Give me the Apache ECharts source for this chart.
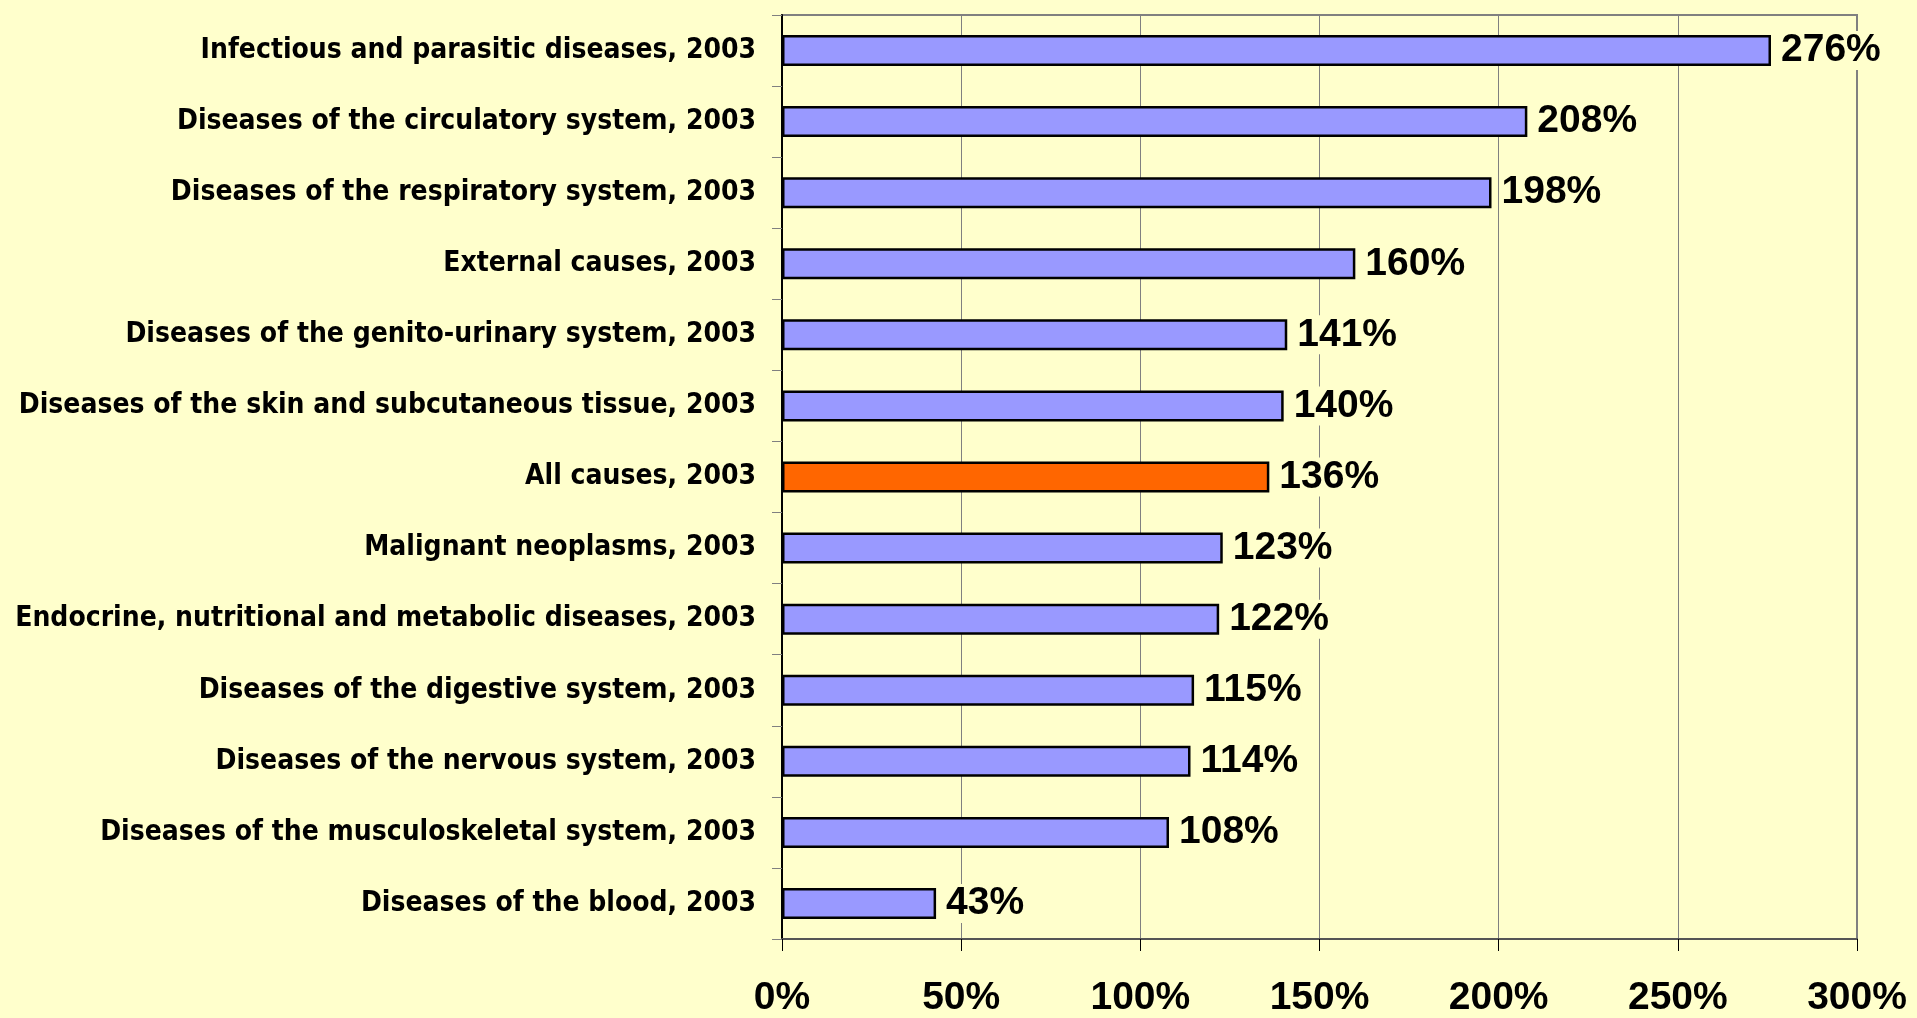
<!DOCTYPE html>
<html>
<head>
<meta charset="utf-8">
<script src="https://cdn.jsdelivr.net/npm/echarts@6/dist/echarts.min.js"></script>
<style>
  html, body { margin: 0; padding: 0; background: #FFFFCC; }
  #main { width: 1917px; height: 1018px; }
</style>
</head>
<body>
<div id="main"></div>
<script>
// categories, top to bottom
var categories = [
  'Infectious and parasitic diseases, 2003',
  'Diseases of the circulatory system, 2003',
  'Diseases of the respiratory system, 2003',
  'External causes, 2003',
  'Diseases of the genito-urinary system, 2003',
  'Diseases of the skin and subcutaneous tissue, 2003',
  'All causes, 2003',
  'Malignant neoplasms, 2003',
  'Endocrine, nutritional and metabolic diseases, 2003',
  'Diseases of the digestive system, 2003',
  'Diseases of the nervous system, 2003',
  'Diseases of the musculoskeletal system, 2003',
  'Diseases of the blood, 2003'
];
// values in %
var values = [276, 208, 198, 160, 141, 140, 136, 123, 122, 115, 114, 108, 43];
// highlighted bar
var highlightCategory = 'All causes, 2003';
// x axis ticks
var xTicks = [0, 50, 100, 150, 200, 250, 300];

var myChart = echarts.init(document.getElementById('main'));

var barData = values.map(function (v, i) {
  return {
    value: v,
    itemStyle: { color: categories[i] === highlightCategory ? '#FF6600' : '#9999FF' }
  };
});

var option = {
  backgroundColor: '#FFFFCC',
  animation: false,
  grid: {
    left: 782,
    right: 60,
    top: 15,
    bottom: 77,
    show: true,
    borderColor: '#808080',
    borderWidth: 2,
    backgroundColor: 'transparent'
  },
  xAxis: {
    type: 'value',
    min: xTicks[0],
    max: xTicks[xTicks.length - 1],
    interval: 50,
    axisLine: { show: true, lineStyle: { color: '#555555', width: 2 } },
    axisTick: { show: true, inside: false, length: 12, lineStyle: { color: '#000000', width: 1 } },
    splitLine: { show: true, lineStyle: { color: '#808080', width: 1 } },
    axisLabel: {
      margin: 40,
      formatter: '{value}%',
      color: '#000000',
      fontSize: 39,
      fontWeight: 'bold',
      fontFamily: '"Liberation Sans", Arial, sans-serif'
    }
  },
  yAxis: {
    type: 'category',
    inverse: true,
    data: categories,
    axisLine: { show: true, lineStyle: { color: '#000000', width: 2 } },
    axisTick: { show: true, inside: false, length: 10, alignWithLabel: false, lineStyle: { color: '#808080', width: 1 } },
    splitLine: { show: false },
    axisLabel: {
      margin: 26,
      color: '#000000',
      fontSize: 28,
      fontWeight: 'bold',
      fontFamily: '"DejaVu Sans Condensed", "Liberation Sans Narrow", sans-serif'
    }
  },
  series: [{
    type: 'bar',
    data: barData,
    barWidth: 31,
    itemStyle: { borderColor: '#000000', borderWidth: 2.5 },
    label: {
      show: true,
      position: 'right',
      distance: 10,
      formatter: '{c}%',
      color: '#000000',
      fontSize: 39,
      fontWeight: 'bold',
      fontFamily: '"Liberation Sans", Arial, sans-serif',
      backgroundColor: '#FFFFCC'
    }
  }]
};

myChart.setOption(option);
</script>
</body>
</html>
